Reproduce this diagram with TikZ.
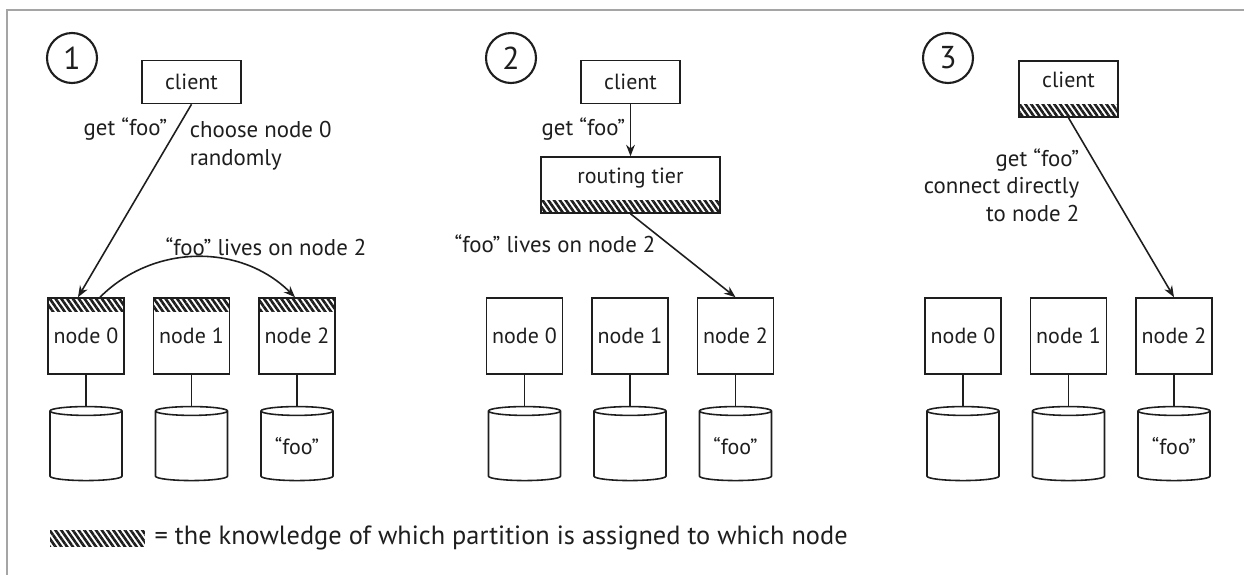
\documentclass[tikz,border=0pt]{standalone}
\usepackage{fontspec}
\setmainfont{PT Sans}
\usetikzlibrary{shapes.geometric, arrows.meta, positioning, patterns.meta}
\definecolor{ink}{RGB}{30,30,30}
\definecolor{framegray}{RGB}{165,165,165}

\begin{document}
\begin{tikzpicture}[x=0.02cm, y=-0.02cm, color=ink, line width=0.9pt,
  nbox/.style={draw, minimum width=1.52cm, minimum height=1.52cm, inner sep=0, font=\fontsize{12.5}{14}\selectfont},
  cbox/.style={draw, minimum width=1.98cm, minimum height=0.86cm, inner sep=0, font=\fontsize{12.5}{14}\selectfont},
  db/.style={draw, cylinder, shape border rotate=90, aspect=0.2, minimum width=1.44cm, minimum height=1.48cm, inner sep=0, font=\fontsize{12.5}{14}\selectfont},
  hatch/.style={pattern={Lines[angle=-55,distance=2.7pt,line width=1.5pt]}, pattern color=ink},
  topband/.style={path picture={\fill[hatch] (path picture bounding box.north west) rectangle ([yshift=-0.26cm]path picture bounding box.north east);}},
  botband/.style={text height=9pt, text depth=11pt, path picture={\fill[hatch] (path picture bounding box.south west) rectangle ([yshift=0.26cm]path picture bounding box.south east);}},
  num/.style={draw, circle, minimum size=1.0cm, inner sep=0, line width=1.2pt, font=\fontsize{18}{18}\selectfont},
  lbl/.style={inner sep=0, font=\fontsize{13}{16}\selectfont},
  arr/.style={-{Stealth[length=6.5pt,width=5pt]}}
]
  \useasboundingbox (0,0) rectangle (1244,575);
  \draw[framegray, line width=1pt] (7,575) -- (7,10) -- (1244,10);

  % 1: client picks any node
  \node[num] (p1) at (72,58) {1};
  \node[cbox] (c1) at (191.5,82) {client};
  \foreach \i in {0,1,2} {
    \node[nbox, topband] (a\i) at (86+105.5*\i,336) {node \i};
    \node[db, below=0.62cm of a\i] (da\i) {\ifnum\i=2 “foo”\else\phantom{“foo”}\fi};
    \draw (a\i) -- (da\i);
  }
  \draw[arr] (c1.south) -- ([xshift=-0.16cm]a0.north);
  \draw[arr] ([xshift=0.28cm]a0.north) to[bend left=45] ([xshift=-0.04cm]a2.north);
  \node[lbl, anchor=base east] (g1) at (168,135) {get “foo”};
  \node[lbl, anchor=north west, align=left] (r1) at (189,120) {choose node 0\\randomly};
  \node[lbl, anchor=base] (l1) at (266,255) {“foo” lives on node 2};

  % 2: routing tier
  \node[num] (p2) at (511,58) {2};
  \node[cbox] (c2) at (630.5,82) {client};
  \node[cbox, botband, minimum width=3.58cm, minimum height=1.12cm] (rt) at (630.5,185) {routing tier};
  \foreach \i in {0,1,2} {
    \node[nbox] (b\i) at (524.5+105.5*\i,336) {node \i};
    \node[db, below=0.62cm of b\i] (db\i) {\ifnum\i=2 “foo”\else\phantom{“foo”}\fi};
    \draw (b\i) -- (db\i);
  }
  \draw[arr] (c2) -- (rt);
  \draw[arr] (rt.south) -- (b2.north);
  \node[lbl, anchor=base east] (g2) at (626,135) {get “foo”};
  \node[lbl, anchor=base] (l2) at (555,252) {“foo” lives on node 2};

  % 3: client knows the partitions
  \node[num] (p3) at (948,58) {3};
  \node[cbox, botband, minimum height=1.12cm] (c3) at (1068.5,89) {client};
  \foreach \i in {0,1,2} {
    \node[nbox] (e\i) at (963+105.5*\i,336) {node \i};
    \node[db, below=0.62cm of e\i] (de\i) {\ifnum\i=2 “foo”\else\phantom{“foo”}\fi};
    \draw (e\i) -- (de\i);
  }
  \draw[arr] (c3.south) -- (e2.north);
  \node[lbl, anchor=north east, align=right, font=\fontsize{13}{15.5}\selectfont] (g3) at (1080,148) {get “foo”\\connect directly\\to node 2};

  % key
  \node[hatch, minimum width=1.9cm, minimum height=0.32cm, inner sep=0] (key) at (97.5,538) {};
  \node[right=0.16cm of key, inner sep=0, font=\fontsize{15}{17}\selectfont] (keytxt) {= the knowledge of which partition is assigned to which node};
\end{tikzpicture}
\end{document}
